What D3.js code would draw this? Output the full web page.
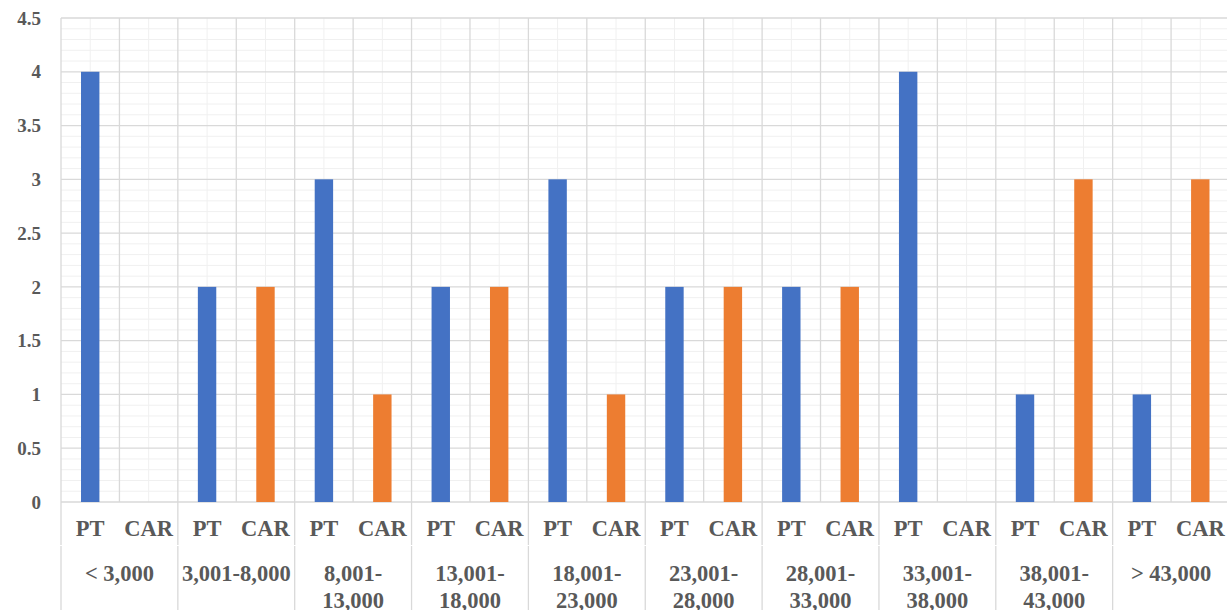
<!DOCTYPE html>
<html>
<head>
<meta charset="utf-8">
<script src="https://cdn.jsdelivr.net/npm/d3@7"></script>
<style>
  html, body { margin: 0; padding: 0; background: #fff; }
  svg { display: block; }
  text { font-family: "Liberation Serif", "Times New Roman", serif; font-weight: bold; fill: #595959; }
</style>
</head>
<body>
<svg id="chart" width="1227" height="610"></svg>
<script>
// Income bands and the two travel modes shown within each band
const groups = ["< 3,000", "3,001-8,000", "8,001-13,000", "13,001-18,000", "18,001-23,000",
                "23,001-28,000", "28,001-33,000", "33,001-38,000", "38,001-43,000", "> 43,000"];
// How each group label breaks onto lines under the axis
const groupLines = [["< 3,000"], ["3,001-8,000"], ["8,001-", "13,000"], ["13,001-", "18,000"],
                    ["18,001-", "23,000"], ["23,001-", "28,000"], ["28,001-", "33,000"],
                    ["33,001-", "38,000"], ["38,001-", "43,000"], ["> 43,000"]];
const modes = ["PT", "CAR"];
const ptValues  = [4, 2, 3, 2, 3, 2, 2, 4, 1, 1];
const carValues = [0, 2, 1, 2, 1, 2, 2, 0, 3, 3];
const yTicks = [0, 0.5, 1, 1.5, 2, 2.5, 3, 3.5, 4, 4.5];

const colors = { PT: "#4472C4", CAR: "#ED7D31" };

const svg = d3.select("#chart");
const plotLeft = 61, plotRight = 1229.5, plotTop = 18, plotBottom = 502;

const x0 = d3.scaleBand().domain(groups).range([plotLeft, plotRight]).padding(0);
const x1 = d3.scaleBand().domain(modes).range([0, x0.bandwidth()]).padding(0);
const y = d3.scaleLinear().domain([0, 4.5]).range([plotBottom, plotTop]);

const g = svg.append("g");

// Minor horizontal gridlines every 0.1
const minorY = d3.range(0, 46).map(i => i / 10).filter(v => Math.abs(v * 2 - Math.round(v * 2)) > 1e-6);
g.selectAll("line.minor-h").data(minorY).join("line")
  .attr("x1", plotLeft).attr("x2", plotRight)
  .attr("y1", d => y(d)).attr("y2", d => y(d))
  .attr("stroke", "#F0F0F0").attr("stroke-width", 1);

// Minor vertical gridlines at the centre of each mode slot
const slots = [];
groups.forEach(gr => modes.forEach(m => slots.push({ gr, m })));
g.selectAll("line.minor-v").data(slots).join("line")
  .attr("x1", d => x0(d.gr) + x1(d.m) + x1.bandwidth() / 2)
  .attr("x2", d => x0(d.gr) + x1(d.m) + x1.bandwidth() / 2)
  .attr("y1", plotTop).attr("y2", plotBottom)
  .attr("stroke", "#F0F0F0").attr("stroke-width", 1);

// Major horizontal gridlines
g.selectAll("line.major-h").data(yTicks).join("line")
  .attr("x1", plotLeft).attr("x2", plotRight)
  .attr("y1", d => y(d)).attr("y2", d => y(d))
  .attr("stroke", "#D9D9D9").attr("stroke-width", 1.3);

// Major vertical gridlines at each slot boundary
g.selectAll("line.major-v").data(slots).join("line")
  .attr("x1", d => x0(d.gr) + x1(d.m))
  .attr("x2", d => x0(d.gr) + x1(d.m))
  .attr("y1", plotTop).attr("y2", plotBottom)
  .attr("stroke", "#D9D9D9").attr("stroke-width", 1.3);

// Bars
const barFrac = 0.315;
const barData = [];
groups.forEach((gr, i) => {
  barData.push({ gr, m: "PT", v: ptValues[i] });
  barData.push({ gr, m: "CAR", v: carValues[i] });
});
g.selectAll("rect.bar").data(barData.filter(d => d.v > 0)).join("rect")
  .attr("x", d => x0(d.gr) + x1(d.m) + x1.bandwidth() * (1 - barFrac) / 2)
  .attr("width", x1.bandwidth() * barFrac)
  .attr("y", d => y(d.v))
  .attr("height", d => y(0) - y(d.v))
  .attr("fill", d => colors[d.m]);

// Category axis separators at group boundaries
const bounds = groups.map(gr => x0(gr));
g.selectAll("line.sep1").data(bounds).join("line")
  .attr("x1", d => d).attr("x2", d => d)
  .attr("y1", plotBottom).attr("y2", 545)
  .attr("stroke", "#D9D9D9").attr("stroke-width", 1.3);
g.selectAll("line.sep2").data(bounds).join("line")
  .attr("x1", d => d).attr("x2", d => d)
  .attr("y1", 546).attr("y2", 610)
  .attr("stroke", "#D9D9D9").attr("stroke-width", 1.3);

// Y axis labels
g.selectAll("text.ytick").data(yTicks).join("text")
  .attr("x", 41).attr("y", d => y(d))
  .attr("dy", "0.35em")
  .attr("text-anchor", "end")
  .style("font-size", "19px")
  .text(d => d);

// Mode labels
g.selectAll("text.mode").data(slots).join("text")
  .attr("x", d => x0(d.gr) + x1(d.m) + x1.bandwidth() / 2)
  .attr("y", 528.5).attr("dy", "0.35em")
  .attr("text-anchor", "middle")
  .style("font-size", "22.5px")
  .text(d => d.m);

// Group labels
const gl = g.selectAll("text.group").data(groups).join("text")
  .attr("text-anchor", "middle")
  .style("font-size", "22.5px");
gl.each(function(d, i) {
  const t = d3.select(this);
  groupLines[i].forEach((line, j) => {
    t.append("tspan")
      .attr("x", x0(d) + x0.bandwidth() / 2)
      .attr("y", 573 + j * 27)
      .attr("dy", "0.35em")
      .text(line);
  });
});
</script>
</body>
</html>
